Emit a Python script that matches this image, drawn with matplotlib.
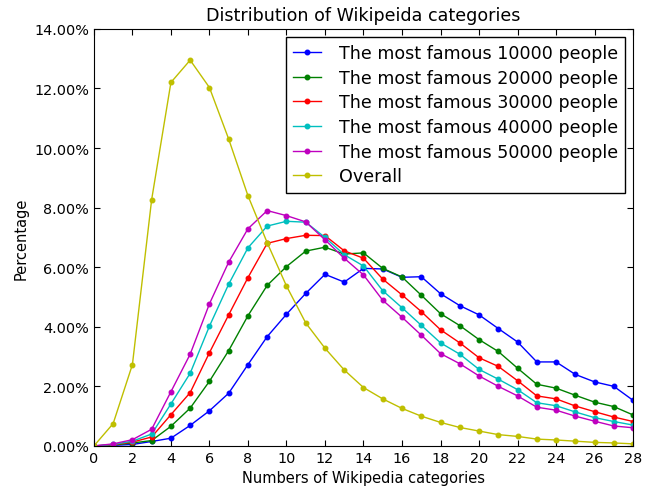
import matplotlib
matplotlib.use("Agg")
import matplotlib.pyplot as plt
from matplotlib.ticker import FuncFormatter, MultipleLocator

x = list(range(29))
top10000 = [0, 0.02, 0.05, 0.15, 0.26, 0.69, 1.18, 1.77, 2.73, 3.67, 4.42, 5.12, 5.76, 5.50, 5.96,
            5.94, 5.66, 5.68, 5.11, 4.71, 4.40, 3.94, 3.49, 2.82, 2.82, 2.40, 2.15, 2.00, 1.53]
top20000 = [0, 0.03, 0.10, 0.18, 0.66, 1.27, 2.17, 3.20, 4.37, 5.39, 6.02, 6.54, 6.67, 6.44, 6.48,
            5.96, 5.67, 5.06, 4.44, 4.04, 3.57, 3.17, 2.61, 2.07, 1.94, 1.70, 1.47, 1.32, 1.04]
top30000 = [0, 0.04, 0.13, 0.30, 1.05, 1.79, 3.13, 4.40, 5.65, 6.80, 6.96, 7.07, 7.06, 6.55, 6.30,
            5.60, 5.07, 4.51, 3.90, 3.46, 2.96, 2.67, 2.19, 1.68, 1.58, 1.34, 1.15, 0.97, 0.82]
top40000 = [0, 0.05, 0.16, 0.40, 1.41, 2.44, 4.02, 5.43, 6.65, 7.38, 7.54, 7.51, 7.00, 6.42, 6.04,
            5.21, 4.64, 4.05, 3.46, 3.08, 2.57, 2.24, 1.89, 1.45, 1.35, 1.14, 0.95, 0.82, 0.70]
top50000 = [0, 0.07, 0.21, 0.56, 1.82, 3.08, 4.77, 6.17, 7.29, 7.90, 7.73, 7.52, 6.92, 6.30, 5.74,
            4.89, 4.32, 3.72, 3.10, 2.76, 2.35, 2.00, 1.68, 1.30, 1.20, 1.00, 0.83, 0.67, 0.61]
overall = [0, 0.75, 2.73, 8.27, 12.20, 12.95, 12.03, 10.30, 8.40, 6.82, 5.37, 4.13, 3.28, 2.55, 1.96,
           1.58, 1.26, 1.00, 0.79, 0.62, 0.50, 0.38, 0.32, 0.23, 0.20, 0.16, 0.12, 0.10, 0.07]

series = [
    ("The most famous 10000 people", top10000, "b"),
    ("The most famous 20000 people", top20000, "g"),
    ("The most famous 30000 people", top30000, "r"),
    ("The most famous 40000 people", top40000, "c"),
    ("The most famous 50000 people", top50000, "m"),
    ("Overall", overall, "y"),
]

fig = plt.figure(figsize=(6.52, 4.89), dpi=100)
ax = fig.add_axes([0.144, 0.086, 0.827, 0.853])
for label, vals, c in series:
    ax.plot(x, vals, color=c, marker='.', markersize=6.5, linewidth=1.0, label=label)

ax.set_xlim(0, 28)
ax.set_ylim(0, 14)
ax.xaxis.set_major_locator(MultipleLocator(2))
ax.yaxis.set_major_locator(MultipleLocator(2))
ax.yaxis.set_major_formatter(FuncFormatter(lambda v, p: "%.2f%%" % v))
ax.tick_params(direction='in', top=True, right=True, labelsize=10.4, length=4)
ax.set_title("Distribution of Wikipeida categories", fontsize=12.6)
ax.set_xlabel("Numbers of Wikipedia categories", fontsize=10.5)
ax.set_ylabel("Percentage", fontsize=10.5)
leg = ax.legend(loc='upper right', fontsize=12.6, fancybox=False, framealpha=1,
                edgecolor='black', borderaxespad=0.45, handlelength=1.6,
                handletextpad=1.0, labelspacing=0.38, borderpad=0.42)
leg.get_frame().set_linewidth(1.0)

fig.savefig("out.png", dpi=100)
